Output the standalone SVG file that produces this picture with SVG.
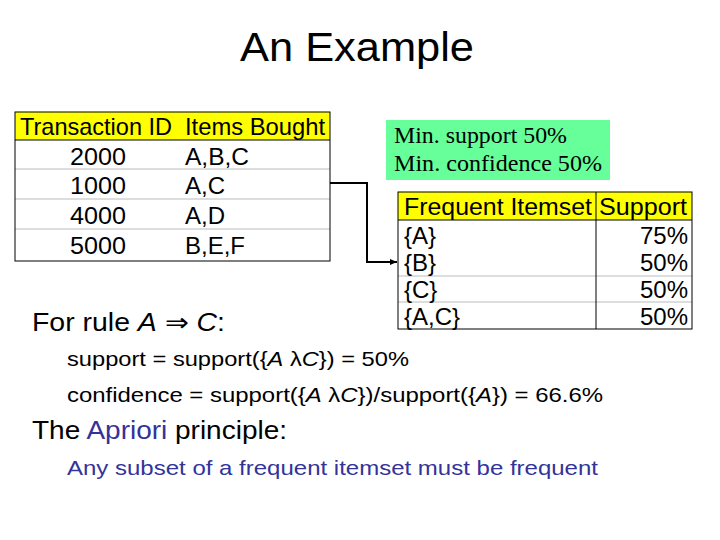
<svg xmlns="http://www.w3.org/2000/svg" width="720" height="540" viewBox="0 0 720 540">
<style>
text{font-family:"Liberation Sans",Arial,sans-serif;fill:#000}
.t{font-size:24px}
.s{font-family:"Liberation Serif","Times New Roman",serif;font-size:23px}
.sep{stroke:#bbb;stroke-width:1}
.box{fill:none;stroke:#000;stroke-width:1}
.b{fill:#333399}
</style>
<defs><marker id="ar" markerWidth="8" markerHeight="8" refX="7" refY="4" orient="auto" markerUnits="userSpaceOnUse"><path d="M0,1 L7,4 L0,7 Z" fill="#000"/></marker></defs>
<rect width="720" height="540" fill="#fff"/>
<text x="240" y="61" style="font-size:40px" textLength="234" lengthAdjust="spacingAndGlyphs">An Example</text>
<g id="transactions">
<rect x="15" y="112" width="315" height="28" fill="#ffff00"/>
<line class="sep" x1="15" y1="169" x2="330" y2="169"/>
<line class="sep" x1="15" y1="199" x2="330" y2="199"/>
<line class="sep" x1="15" y1="229" x2="330" y2="229"/>
<line x1="15" y1="140" x2="330" y2="140" stroke="#000"/>
<rect class="box" x="15" y="112" width="315" height="149"/>
<text class="t" x="20" y="135" textLength="152" lengthAdjust="spacingAndGlyphs">Transaction ID</text>
<text class="t" x="185" y="135" textLength="140" lengthAdjust="spacingAndGlyphs">Items Bought</text>
<text class="t" x="98" y="165" text-anchor="middle" textLength="56" lengthAdjust="spacingAndGlyphs">2000</text><text class="t" x="185" y="165" textLength="64" lengthAdjust="spacingAndGlyphs">A,B,C</text>
<text class="t" x="98" y="194" text-anchor="middle" textLength="56" lengthAdjust="spacingAndGlyphs">1000</text><text class="t" x="185" y="194" textLength="40" lengthAdjust="spacingAndGlyphs">A,C</text>
<text class="t" x="98" y="224" text-anchor="middle" textLength="56" lengthAdjust="spacingAndGlyphs">4000</text><text class="t" x="185" y="224" textLength="40" lengthAdjust="spacingAndGlyphs">A,D</text>
<text class="t" x="98" y="254" text-anchor="middle" textLength="56" lengthAdjust="spacingAndGlyphs">5000</text><text class="t" x="185" y="254" textLength="60" lengthAdjust="spacingAndGlyphs">B,E,F</text>
</g>
<g id="minbox">
<rect x="386" y="120" width="224" height="60" fill="#66ff99"/>
<text class="s" x="394" y="143" textLength="173" lengthAdjust="spacingAndGlyphs">Min. support 50%</text>
<text class="s" x="394" y="171" textLength="208" lengthAdjust="spacingAndGlyphs">Min. confidence 50%</text>
</g>
<g id="frequent">
<rect x="398" y="192" width="294" height="28" fill="#ffff00"/>
<line class="sep" x1="398" y1="276" x2="692" y2="276"/>
<line class="sep" x1="398" y1="302" x2="692" y2="302"/>
<line x1="398" y1="220" x2="692" y2="220" stroke="#000"/>
<line x1="596" y1="192" x2="596" y2="329" stroke="#000"/>
<rect class="box" x="398" y="192" width="294" height="137"/>
<text class="t" x="404" y="215" textLength="188" lengthAdjust="spacingAndGlyphs">Frequent Itemset</text>
<text class="t" x="599" y="215" textLength="88" lengthAdjust="spacingAndGlyphs">Support</text>
<text class="t" x="404" y="244">{A}</text><text class="t" x="688" y="244" text-anchor="end">75%</text>
<text class="t" x="404" y="271">{B}</text><text class="t" x="688" y="271" text-anchor="end">50%</text>
<text class="t" x="404" y="298">{C}</text><text class="t" x="688" y="298" text-anchor="end">50%</text>
<text class="t" x="404" y="325">{A,C}</text><text class="t" x="688" y="325" text-anchor="end">50%</text>
</g>
<g id="connectors">
<path d="M330,183 H367 V262 H397" fill="none" stroke="#000" stroke-width="2" marker-end="url(#ar)"/>
</g>
<g id="text">
<text x="32" y="331" style="font-size:25px" textLength="193" lengthAdjust="spacingAndGlyphs">For rule <tspan font-style="italic">A</tspan> ⇒ <tspan font-style="italic">C</tspan>:</text>
<text x="67" y="366" style="font-size:21px" textLength="342" lengthAdjust="spacingAndGlyphs">support = support({<tspan font-style="italic">A</tspan> λ<tspan font-style="italic">C</tspan>}) = 50%</text>
<text x="67" y="402" style="font-size:21px" textLength="536" lengthAdjust="spacingAndGlyphs">confidence = support({<tspan font-style="italic">A</tspan> λ<tspan font-style="italic">C</tspan>})/support({<tspan font-style="italic">A</tspan>}) = 66.6%</text>
<text x="32" y="439" style="font-size:25px" textLength="255" lengthAdjust="spacingAndGlyphs">The <tspan class="b">Apriori</tspan> principle:</text>
<text x="67" y="475" class="b" style="font-size:21px" textLength="531" lengthAdjust="spacingAndGlyphs">Any subset of a frequent itemset must be frequent</text>
</g>
</svg>
